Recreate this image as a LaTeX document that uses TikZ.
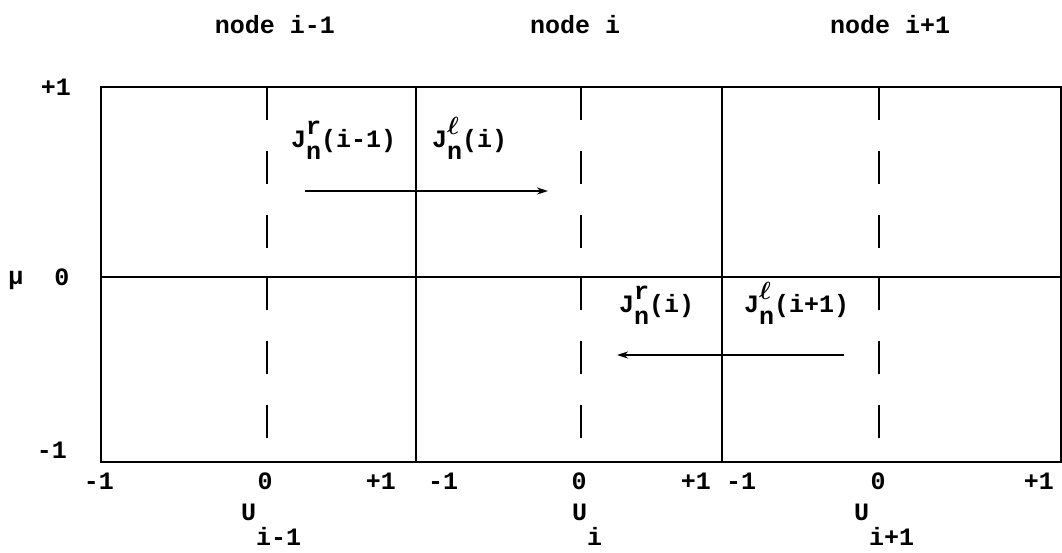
\documentclass[tikz,border=0pt]{standalone}
\usepackage{fontspec}
\setmonofont{Liberation Mono}
\usetikzlibrary{arrows.meta}
\newcommand{\Jlab}[3]{J\makebox[0pt][l]{\raisebox{0.5em}{#1}}\raisebox{-0.5em}{#2}#3}
\newcommand{\Ulab}[1]{U\raisebox{-1.0em}{#1}}
\begin{document}
\begin{tikzpicture}[x=1pt,y=-1pt,
  txt/.style={inner sep=0pt,font=\fontsize{25}{30}\selectfont\ttfamily\bfseries},
  frame/.style={line width=2.8pt},
  guide/.style={line width=2.8pt,dash pattern=on 33pt off 31pt},
  flux/.style={line width=2.2pt,-{Stealth[length=11pt,width=7pt]}}]
\useasboundingbox (0,0) rectangle (1062,552);
% frame
\coordinate (tl) at (101,87);
\coordinate (br) at (1061,462);
\draw[frame] (tl) rectangle (br);
\coordinate (m1) at (101,277);
\coordinate (m2) at (1061,277);
\draw[frame] (m1) -- (m2);
\coordinate (v1t) at (416,87); \coordinate (v1b) at (416,462);
\coordinate (v2t) at (722,87); \coordinate (v2b) at (722,462);
\draw[frame] (v1t) -- (v1b);
\draw[frame] (v2t) -- (v2b);
% dashed centre lines
\foreach \x/\n in {267/a,581/b,879/c}{
  \coordinate (\n t) at (\x,87);
  \coordinate (\n m) at (\x,277);
  \coordinate (\n b) at (\x,462);
  \draw[guide] (\n t) -- (\n m);
  \draw[guide] (\n m) -- (\n b);
}
% top labels
\node[txt,anchor=base] (n1) at (275,33) {node i-1};
\node[txt,anchor=base] (n2) at (575,33) {node i};
\node[txt,anchor=base] (n3) at (890,33) {node i+1};
% axis labels left
\node[txt] (yp) at (56,87) {+1};
\node[txt] (y0) at (62,277) {0};
\node[txt] (ym) at (52,450) {-1};
\node[txt] (mu) at (16,280) {μ};
% bottom tick labels
\node[txt,anchor=base] (t1) at (99,489) {-1};
\node[txt,anchor=base] (t2) at (265,489) {0};
\node[txt,anchor=base east] (t3) at (396,489) {+1};
\node[txt,anchor=base west] (t4) at (428,489) {-1};
\node[txt,anchor=base] (t5) at (579,489) {0};
\node[txt,anchor=base east] (t6) at (711,489) {+1};
\node[txt,anchor=base west] (t7) at (726,489) {-1};
\node[txt,anchor=base] (t8) at (878,489) {0};
\node[txt,anchor=base east] (t9) at (1054,489) {+1};
% U labels
\node[txt,anchor=base west] (u1) at (241,520) {\Ulab{i-1}};
\node[txt,anchor=base west] (u2) at (572,520) {\Ulab{i}};
\node[txt,anchor=base west] (u3) at (854,520) {\Ulab{i+1}};
% flux labels
\node[txt,anchor=base west] (j1) at (291,147) {\Jlab{r}{n}{(i-1)}};
\node[txt,anchor=base west] (j2) at (432,147) {\Jlab{\boldmath$\ell$}{n}{(i)}};
\node[txt,anchor=base west] (j3) at (619,312) {\Jlab{r}{n}{(i)}};
\node[txt,anchor=base west] (j4) at (744,312) {\Jlab{\boldmath$\ell$}{n}{(i+1)}};
% arrows
\coordinate (a1s) at (305,191); \coordinate (a1e) at (548,191);
\coordinate (a2s) at (844,355); \coordinate (a2e) at (617,355);
\draw[flux] (a1s) -- (a1e);
\draw[flux] (a2s) -- (a2e);
\end{tikzpicture}
\end{document}
